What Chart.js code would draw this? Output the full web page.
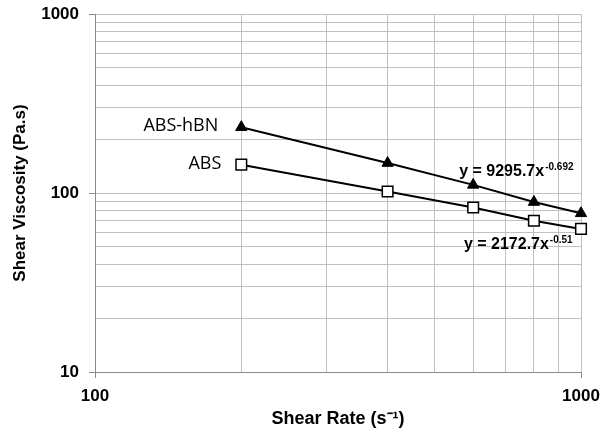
<!DOCTYPE html>
<html>
<head>
<meta charset="utf-8">
<script src="https://cdn.jsdelivr.net/npm/chart.js@4"></script>
<style>
  html, body { margin: 0; padding: 0; background: #fff; }
  #wrap { width: 611px; height: 434px; }
</style>
</head>
<body>
<div id="wrap"><canvas id="chart" width="611" height="434"></canvas></div>
<script>
// shear rate (1/s)
const shearRates = [200, 400, 600, 800, 1000];
// shear viscosity (Pa.s)
const absHbn = [233, 147, 111, 89, 77];
const abs = [144, 102, 83, 70, 63];

const seriesNames = ["ABS-hBN", "ABS"];
const fitLabels = [
    { base: "y = 9295.7x", exp: "-0.692" },
    { base: "y = 2172.7x", exp: "-0.51" }
];

// log axis grid / tick values
const xTickValues = [100, 200, 300, 400, 500, 600, 700, 800, 900, 1000];
const yTickValues = [10, 20, 30, 40, 50, 60, 70, 80, 90, 100, 200, 300, 400, 500, 600, 700, 800, 900, 1000];

function toPoints(xs, ys) {
    return xs.map((x, i) => ({ x: x, y: ys[i] }));
}

function isDecade(v) {
    const l = Math.log10(v);
    return Math.abs(l - Math.round(l)) < 1e-9;
}

const gridColor = "#c0c0c0";
const tickMarkColor = ctx => (ctx.tick && isDecade(ctx.tick.value)) ? "#8c8c8c" : "rgba(0,0,0,0)";

// text labels next to the curves
const labelPlugin = {
    id: "curveLabels",
    afterDatasetsDraw(chart) {
        const ctx = chart.ctx;
        const xs = chart.scales.x;
        const ys = chart.scales.y;
        ctx.save();
        ctx.fillStyle = "#000";

        // series names left of the first point
        ctx.font = "18px 'Open Sans'";
        ctx.textAlign = "right";
        ctx.textBaseline = "middle";
        ctx.fillText(seriesNames[0], xs.getPixelForValue(shearRates[0]) - 23, ys.getPixelForValue(absHbn[0]) - 1.5);
        ctx.fillText(seriesNames[1], xs.getPixelForValue(shearRates[0]) - 20, ys.getPixelForValue(abs[0]) - 0.5);

        // trendline equations
        ctx.textAlign = "left";
        ctx.textBaseline = "alphabetic";
        const drawEq = (lbl, x, y) => {
            ctx.font = "bold 16px 'Liberation Sans'";
            ctx.fillText(lbl.base, x, y);
            const w = ctx.measureText(lbl.base).width;
            ctx.font = "bold 10px 'Liberation Sans'";
            ctx.fillText(lbl.exp, x + w + 1, y - 6);
        };
        drawEq(fitLabels[0], xs.getPixelForValue(shearRates[2]) - 14, ys.getPixelForValue(absHbn[2]) - 9);
        drawEq(fitLabels[1], xs.getPixelForValue(shearRates[3]) - 70, ys.getPixelForValue(abs[3]) + 28);
        ctx.restore();
    }
};

function fixTicks(values) {
    return scale => { scale.ticks = values.map(v => ({ value: v })); };
}

new Chart(document.getElementById("chart"), {
    type: "scatter",
    data: {
        datasets: [
            {
                label: seriesNames[0],
                data: toPoints(shearRates, absHbn),
                showLine: true,
                clip: false,
                borderColor: "#000",
                borderWidth: 2,
                pointStyle: "triangle",
                pointRadius: 6.5,
                pointBackgroundColor: "#000",
                pointBorderColor: "#000",
                pointBorderWidth: 1
            },
            {
                label: seriesNames[1],
                data: toPoints(shearRates, abs),
                showLine: true,
                clip: false,
                borderColor: "#000",
                borderWidth: 2,
                pointStyle: "rect",
                pointRadius: 7.5,
                pointBackgroundColor: "#fff",
                pointBorderColor: "#000",
                pointBorderWidth: 1.5
            }
        ]
    },
    options: {
        responsive: false,
        animation: false,
        layout: { padding: { left: 6, right: 30, top: 14, bottom: 0 } },
        plugins: {
            legend: { display: false },
            tooltip: { enabled: false }
        },
        scales: {
            x: {
                type: "logarithmic",
                min: 100,
                max: 1000,
                afterBuildTicks: fixTicks(xTickValues),
                afterFit: s => { s.height = 62; s.paddingLeft = 0; s.paddingRight = 0; },
                border: { color: "#8c8c8c", width: 1 },
                grid: { color: gridColor, tickColor: tickMarkColor, tickLength: 6, lineWidth: 1 },
                ticks: {
                    autoSkip: false,
                    maxRotation: 0,
                    padding: 8,
                    color: "#000",
                    font: { family: "'Liberation Sans'", size: 17, weight: "bold" },
                    callback: v => isDecade(v) ? String(v) : ""
                },
                title: {
                    display: true,
                    text: "Shear Rate (s\u207B\u00B9)",
                    color: "#000",
                    font: { family: "'Liberation Sans'", size: 18, weight: "bold" },
                    padding: { top: 4, bottom: 4 }
                }
            },
            y: {
                type: "logarithmic",
                min: 10,
                max: 1000,
                afterBuildTicks: fixTicks(yTickValues),
                afterFit: s => { s.width = 89; s.paddingTop = 0; s.paddingBottom = 0; },
                border: { color: "#8c8c8c", width: 1 },
                grid: { color: gridColor, tickColor: tickMarkColor, tickLength: 6, lineWidth: 1 },
                ticks: {
                    autoSkip: false,
                    padding: 10,
                    color: "#000",
                    font: { family: "'Liberation Sans'", size: 17, weight: "bold" },
                    callback: v => isDecade(v) ? String(v) : ""
                },
                title: {
                    display: true,
                    text: "Shear Viscosity (Pa.s)",
                    color: "#000",
                    font: { family: "'Liberation Sans'", size: 17, weight: "bold" },
                    padding: { top: 4, bottom: 4 }
                }
            }
        }
    },
    plugins: [labelPlugin]
});
</script>
</body>
</html>
